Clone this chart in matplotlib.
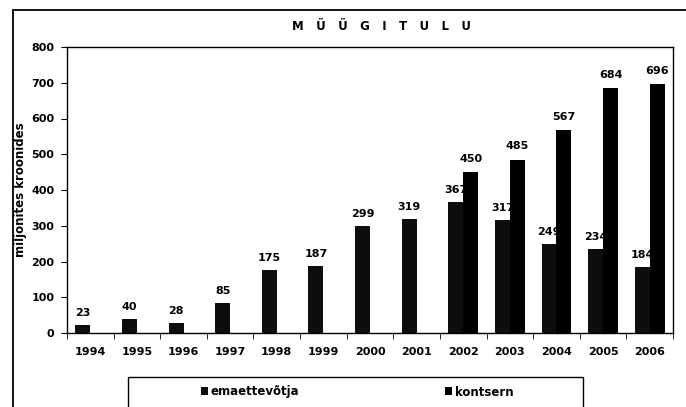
import numpy as np
import matplotlib.pyplot as plt
from matplotlib.patches import Rectangle

plt.rcParams['font.family'] = ['DejaVu Sans']
plt.rcParams['font.weight'] = 'bold'
plt.rcParams['axes.labelweight'] = 'bold'

years = ['1994', '1995', '1996', '1997', '1998', '1999', '2000',
         '2001', '2002', '2003', '2004', '2005', '2006']
emaettevotja = [23, 40, 28, 85, 175, 187, 299, 319, 367, 317, 249, 234, 184]
kontsern = [np.nan] * 8 + [450, 485, 567, 684, 696]

W, H = 686, 407
fig = plt.figure(figsize=(W / 100, H / 100), dpi=100)
ax = fig.add_axes([67 / W, (H - 333) / H, (673 - 67) / W, (333 - 47) / H])

x = np.arange(len(years))
bw = 0.32
b1 = ax.bar(x - bw / 2, emaettevotja, bw, color='#0d0d0d', zorder=1,
            label='emaettevõtja')
b2 = ax.bar(x + bw / 2, kontsern, bw, color='#000000', zorder=3,
            label='kontsern')

# labels of the parent company sit under the group bars (as in the scan)
for xi, v in zip(x, emaettevotja):
    ax.annotate(str(v), (xi - bw / 2, v), xytext=(0, 5), textcoords='offset points',
                ha='center', va='bottom', fontsize=8, zorder=2)
for xi, v in zip(x, kontsern):
    if np.isnan(v):
        continue
    ax.annotate(str(v), (xi + bw / 2, v), xytext=(0, 6), textcoords='offset points',
                ha='center', va='bottom', fontsize=8, zorder=4)

ax.set_xlim(-0.5, len(years) - 0.5)
ax.set_ylim(0, 800)
ax.set_yticks(range(0, 801, 100))
ax.set_xticks(x)
ax.set_xticklabels(years)
ax.set_xticks(np.arange(-0.5, len(years), 1), minor=True)
ax.tick_params(axis='x', which='major', length=0, pad=10, labelsize=8)
ax.tick_params(axis='x', which='minor', length=4, direction='out')
ax.tick_params(axis='y', length=4, direction='out', labelsize=8, pad=5)
for s in ax.spines.values():
    s.set_linewidth(1.0)

ax.set_ylabel('miljonites kroonides', fontsize=8.5, labelpad=3)

fig.text(381 / W, 1 - 26.5 / H, '   '.join('MÜÜGITULU'), ha='center', va='center',
         fontsize=8.5)

# outer frame of the scanned chart
fig.patches.append(Rectangle((13 / W, -0.1), 1.2, 1 - 10 / H + 0.1,
                             transform=fig.transFigure, fill=False,
                             lw=1.3, color='black'))
# legend box, cut off at the bottom
fig.patches.append(Rectangle((128 / W, -0.1), (583 - 128) / W, 1 - 377 / H + 0.1,
                             transform=fig.transFigure, fill=False,
                             lw=1.0, color='black'))
fig.legend(handles=[b1, b2], loc='center', bbox_to_anchor=(357 / W, 1 - 392 / H),
           ncol=2, frameon=False, handlelength=0.65, handleheight=0.65,
           handletextpad=0.2, columnspacing=12.3, prop={'weight': 'bold', 'size': 8.5})

fig.savefig('out.png', dpi=100)
